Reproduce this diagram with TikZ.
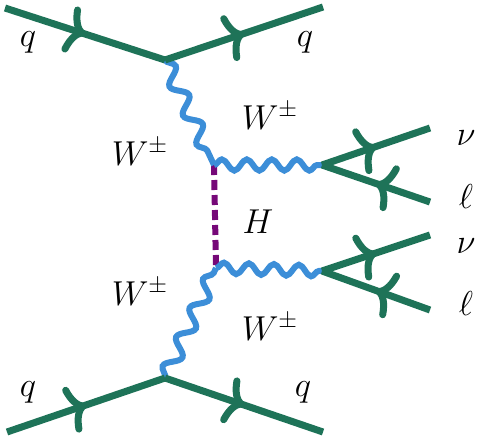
\documentclass[tikz,border=0pt]{standalone}
\usetikzlibrary{arrows.meta,decorations.markings,decorations.pathmorphing}
\definecolor{fgreen}{RGB}{30,115,88}
\definecolor{wblue}{RGB}{60,142,216}
\definecolor{hpurple}{RGB}{118,8,120}
\tikzset{
  fermion/.style={fgreen, line width=3.5pt, postaction={decorate},
    decoration={markings, mark=at position .5 with {\arrow{Computer Modern Rightarrow[length=9pt,width=24pt]}}}},
  boson/.style={wblue, line width=3pt, decorate,
    decoration={snake, amplitude=2.8pt, segment length=12.5pt}},
  longboson/.style={boson, decoration={snake, amplitude=3.6pt, segment length=16pt}},
  higgs/.style={hpurple, line width=3pt, dash pattern=on 5pt off 2.5pt},
}
\begin{document}
\begin{tikzpicture}[x=0.5pt, y=-0.5pt, every node/.style={font=\fontsize{17}{20}\selectfont}]
\useasboundingbox (0,0) rectangle (480,440);
% vertices and outer ends
\coordinate (qa) at (5,8);
\coordinate (qb) at (323,7);
\coordinate (va) at (165,60);
\coordinate (wa) at (214,165);
\coordinate (da) at (322,165);
\coordinate (nua) at (430,128);
\coordinate (la) at (430,202);
\coordinate (wb) at (216,268);
\coordinate (db) at (322,271);
\coordinate (nub) at (430,235);
\coordinate (lb) at (430,310);
\coordinate (vb) at (165,378);
\coordinate (qc) at (7,432);
\coordinate (qd) at (323,432);

\draw[higgs] (wa)--(wb);
\draw[longboson] (va)--(wa);
\draw[boson] (wa)--(da);
\draw[longboson] (vb)--(wb);
\draw[boson] (wb)--(db);

\draw[fermion] (qa)--(va);
\draw[fermion] (va)--(qb);
\draw[fermion] (qc)--(vb);
\draw[fermion] (vb)--(qd);
\draw[fermion] (da)--(nua);
\draw[fermion] (la)--(da);
\draw[fermion] (db)--(nub);
\draw[fermion] (lb)--(db);

% labels
\node (tq1) at (28,42) {$q$};
\node (tq2) at (305,42) {$q$};
\node (tw1) at (140,152) {$W^{\pm}$};
\node (tw2) at (270,116) {$W^{\pm}$};
\node (th) at (258,222) {$H$};
\node (tw3) at (140,292) {$W^{\pm}$};
\node (tw4) at (270,327) {$W^{\pm}$};
\node (tq3) at (28,392) {$q$};
\node (tq4) at (303,392) {$q$};
\node (tn1) at (466,138) {$\nu$};
\node (tl1) at (466,196) {$\ell$};
\node (tn2) at (466,246) {$\nu$};
\node (tl2) at (466,303) {$\ell$};

\end{tikzpicture}
\end{document}
